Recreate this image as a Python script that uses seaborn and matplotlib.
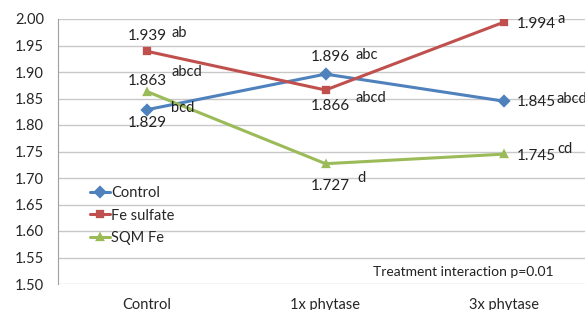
import matplotlib
matplotlib.use("Agg")
import matplotlib.pyplot as plt
import pandas as pd
import seaborn as sns

treatments = ["Control", "1x phytase", "3x phytase"]
series = ["Control", "Fe sulfate", "SQM Fe"]
control_vals = [1.829, 1.896, 1.845]
fe_sulfate_vals = [1.939, 1.866, 1.994]
sqm_fe_vals = [1.863, 1.727, 1.745]
control_letters = ["bcd", "abc", "abcd"]
fe_sulfate_letters = ["ab", "abcd", "a"]
sqm_fe_letters = ["abcd", "d", "cd"]
note = "Treatment interaction p=0.01"

colors = ["#4F81BD", "#C0504D", "#9BBB59"]
markers = ["D", "s", "^"]

df = pd.DataFrame({
    "treatment": treatments * 3,
    "value": control_vals + fe_sulfate_vals + sqm_fe_vals,
    "series": [s for s in series for _ in treatments],
})

sns.set_style("white")
plt.rcParams["font.family"] = ["Lato", "DejaVu Sans"]

fig = plt.figure(figsize=(5.85, 3.1), dpi=100)
ax = fig.add_axes([58 / 585, 1 - 284 / 310, 535 / 585, 265 / 310])

sns.pointplot(data=df, x="treatment", y="value", hue="series", order=treatments,
              hue_order=series, palette=colors, markers=markers, linestyles="-",
              errorbar=None, markersize=5, linewidth=2.2, ax=ax)

ax.set_xlim(-0.5, 2.5)
ax.set_ylim(1.5, 2.0)
ax.set_yticks([1.50 + 0.05 * i for i in range(11)])
ax.set_yticklabels([f"{1.50 + 0.05 * i:.2f}" for i in range(11)], fontsize=10.5)
ax.yaxis.grid(True, color="#C8C8C8", linewidth=1)
ax.set_axisbelow(True)
ax.set_xlabel("")
ax.set_ylabel("")
ax.tick_params(axis="y", length=0, pad=10)
ax.tick_params(axis="x", which="major", length=0, pad=10, labelsize=10.5)
ax.set_xticks([0.5, 1.5], minor=True)
ax.tick_params(axis="x", which="minor", length=4, color="#A0A0A0", width=1)
for side in ["top", "right", "bottom"]:
    ax.spines[side].set_visible(False)
ax.spines["left"].set_color("#A0A0A0")

# value + letter labels (offsets in pixels)
value_offsets = [
    [(0, -13), (5, 17), (13, -1)],
    [(0, 15), (5, -16), (13, -2)],
    [(0, 11), (5, -22), (13, -2)],
]
letter_offsets = [
    [(24, 2), (30, 19), (53, 2)],
    [(24, 18), (30, -8), (54, 3)],
    [(24, 20), (32, -14), (54, 5)],
]
all_vals = [control_vals, fe_sulfate_vals, sqm_fe_vals]
all_letters = [control_letters, fe_sulfate_letters, sqm_fe_letters]
for s in range(3):
    for i in range(3):
        v = all_vals[s][i]
        ha = "left" if i == 2 else "center"
        ax.annotate(f"{v:.3f}", (i, v), xytext=value_offsets[s][i],
                    textcoords="offset pixels", ha=ha, va="center", fontsize=11,
                    color="#222222", annotation_clip=False)
        ax.annotate(all_letters[s][i], (i, v), xytext=letter_offsets[s][i],
                    textcoords="offset pixels", ha="left", va="center", fontsize=10.5,
                    color="#222222", annotation_clip=False)

ax.text(373, 310 - 272, note, transform=None, fontsize=10, va="center", ha="left",
        color="#222222")

handles, labels = ax.get_legend_handles_labels()
ax.legend(handles, labels, loc="upper left", bbox_to_anchor=(0.035, 0.42), frameon=False,
          fontsize=10.5, handlelength=1.4, handletextpad=0.05, labelspacing=0.6)

fig.savefig("out.png", dpi=100)
plt.close(fig)
